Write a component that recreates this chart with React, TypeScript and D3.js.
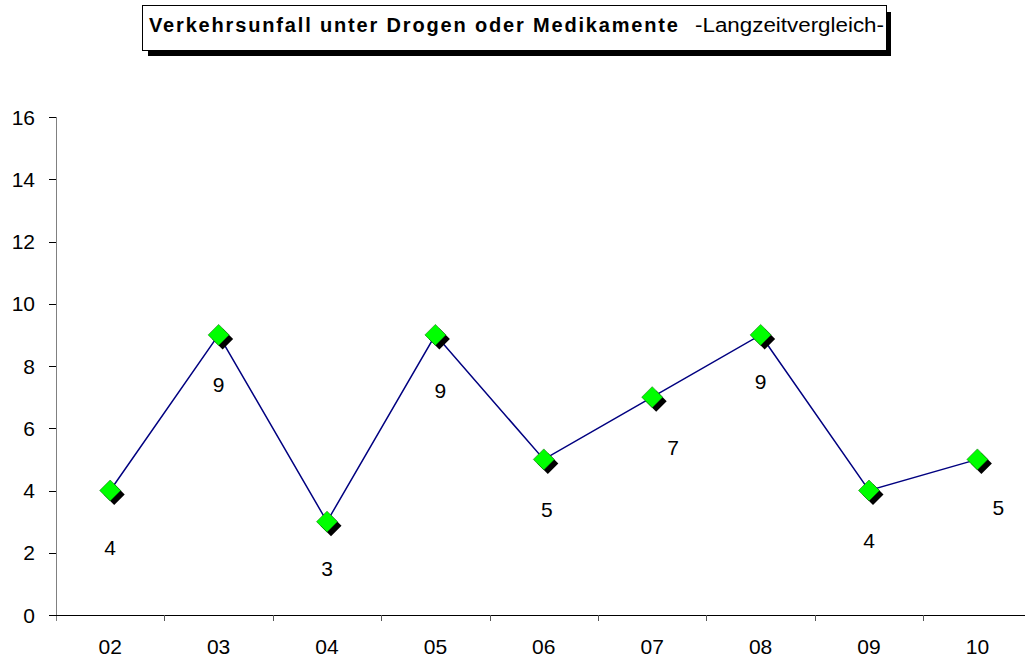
import React, { useEffect, useRef } from "react";
import * as d3 from "d3";

// Verkehrsunfall unter Drogen oder Medikamente, Jahre 2002-2010
const years = ["02", "03", "04", "05", "06", "07", "08", "09", "10"];
const values = [4, 9, 3, 9, 5, 7, 9, 4, 5];
const yTicks = [0, 2, 4, 6, 8, 10, 12, 14, 16];

// label nudges (dx, dy to baseline) relative to each point, as in the original sheet
const labelNudge = [
  [0, 64], [0, 57], [0, 54], [5, 63], [3, 58], [21, 58], [0, 54], [0, 57], [21, 56],
];

const W = 1025;
const H = 660;

export default function App() {
  const svgRef = useRef<SVGSVGElement | null>(null);

  useEffect(() => {
    if (!svgRef.current) return;
    const svg = d3.select(svgRef.current);
    svg.selectAll("*").remove();

    const left = 56;
    const top = 117;
    const bottom = 615;

    const x = d3.scaleBand().domain(years).range([left, left + 9 * 108.4]);
    const y = d3.scaleLinear().domain([0, 16]).range([bottom, top]);
    const font = "'Liberation Sans', Arial, sans-serif";

    // title box with shadow
    svg.append("rect").attr("x", 148).attr("y", 12).attr("width", 743).attr("height", 44).attr("fill", "#000");
    svg.append("rect").attr("x", 142.5).attr("y", 5.5).attr("width", 744).attr("height", 45)
      .attr("fill", "#fff").attr("stroke", "#000").attr("stroke-width", 1);
    svg.append("text").attr("x", 149).attr("y", 32).attr("font-family", font).attr("font-size", 20)
      .attr("font-weight", "bold").attr("textLength", 529).attr("lengthAdjust", "spacing")
      .text("Verkehrsunfall unter Drogen oder Medikamente");
    svg.append("text").attr("x", 695).attr("y", 32).attr("font-family", font).attr("font-size", 20)
      .attr("textLength", 189).attr("lengthAdjust", "spacingAndGlyphs")
      .text("-Langzeitvergleich-");

    // y axis
    svg.append("line").attr("x1", left + 0.5).attr("x2", left + 0.5).attr("y1", top).attr("y2", bottom + 6)
      .attr("stroke", "#808080").attr("stroke-width", 1);
    yTicks.forEach(t => {
      svg.append("line").attr("x1", left - 7).attr("x2", left).attr("y1", Math.round(y(t)) + 0.5)
        .attr("y2", Math.round(y(t)) + 0.5).attr("stroke", "#000");
      svg.append("text").attr("x", 35).attr("y", y(t) + 7.5).attr("text-anchor", "end")
        .attr("font-family", font).attr("font-size", 21).attr("fill", "#000").text(t);
    });

    // x axis
    svg.append("line").attr("x1", left - 7).attr("x2", W).attr("y1", bottom + 0.5).attr("y2", bottom + 0.5)
      .attr("stroke", "#000");
    years.forEach((yr, i) => {
      const bx = Math.round(x(yr)!) + 0.5;
      if (i > 0) {
        svg.append("line").attr("x1", bx).attr("x2", bx).attr("y1", bottom).attr("y2", bottom + 6)
          .attr("stroke", "#555");
      }
      svg.append("text").attr("x", x(yr)! + x.bandwidth() / 2).attr("y", 654).attr("text-anchor", "middle")
        .attr("font-family", font).attr("font-size", 21).attr("fill", "#000").text(yr);
    });

    const cx = (i: number) => x(years[i])! + x.bandwidth() / 2;

    // line
    const line = d3.line<number>().x((_, i) => cx(i)).y(d => y(d));
    svg.append("path").datum(values).attr("d", line).attr("fill", "none")
      .attr("stroke", "#000080").attr("stroke-width", 1.5);

    // markers: diamond with shadow
    const diamond = (px: number, py: number, r: number) =>
      `M${px},${py - r}L${px + r},${py}L${px},${py + r}L${px - r},${py}Z`;
    values.forEach((v, i) => {
      svg.append("path").attr("d", diamond(cx(i) + 4, y(v) + 4, 10.5)).attr("fill", "#000");
      svg.append("path").attr("d", diamond(cx(i), y(v), 10.5)).attr("fill", "#00ff00")
        .attr("stroke", "#006000").attr("stroke-width", 0.5);
    });

    // value labels
    values.forEach((v, i) => {
      svg.append("text").attr("x", cx(i) + labelNudge[i][0]).attr("y", y(v) + labelNudge[i][1])
        .attr("text-anchor", "middle").attr("font-family", font).attr("font-size", 21).attr("fill", "#000")
        .text(v);
    });
  }, []);

  return (
    <div style={{ position: "absolute", left: 0, top: 0, width: W, height: H, background: "#fff" }}>
      <svg ref={svgRef} width={W} height={H} style={{ display: "block" }} />
    </div>
  );
}
